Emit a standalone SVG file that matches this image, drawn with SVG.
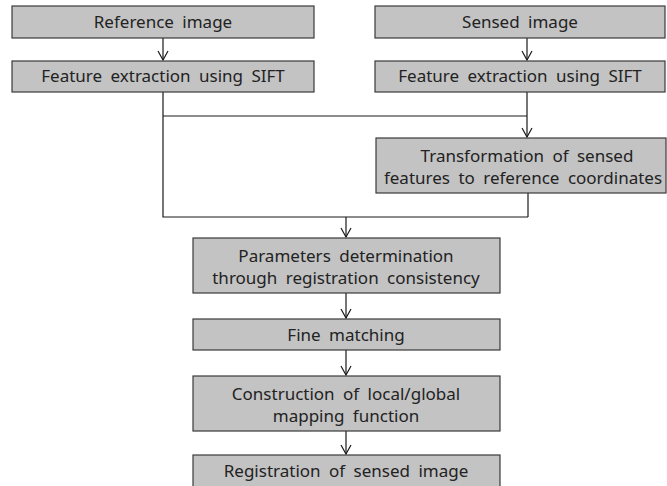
<svg xmlns="http://www.w3.org/2000/svg" width="667" height="486" viewBox="0 0 667 486">
<style>
.box{fill:#c3c3c3;stroke:#3a3a3a;stroke-width:1.2}
.t{font-family:"Noto Sans","DejaVu Sans",sans-serif;font-size:17px;word-spacing:4px;fill:#222;text-anchor:middle}
.c{fill:none;stroke:#1a1a1a;stroke-width:1.2}
</style>
<defs>
<marker id="a" markerUnits="userSpaceOnUse" markerWidth="14" markerHeight="14" viewBox="-12 -7 14 14" refX="0" refY="0" orient="auto">
<path d="M-9,-5 L0,0 L-9,5" fill="none" stroke="#1a1a1a" stroke-width="1.2"/>
</marker>
</defs>
<rect width="667" height="486" fill="#fff"/>
<g id="connectors">
<path class="c" d="M163,38 V60" marker-end="url(#a)"/>
<path class="c" d="M527,38 V60" marker-end="url(#a)"/>
<path class="c" d="M163,92 V217 H528"/>
<path class="c" d="M163,116 H527"/>
<path class="c" d="M527,92 V137" marker-end="url(#a)"/>
<path class="c" d="M528,193 V217"/>
<path class="c" d="M346,217 V237" marker-end="url(#a)"/>
<path class="c" d="M346,293 V318" marker-end="url(#a)"/>
<path class="c" d="M346,350 V375" marker-end="url(#a)"/>
<path class="c" d="M346,431 V454" marker-end="url(#a)"/>
</g>
<g id="n-ref"><rect class="box" x="12" y="6" width="302" height="32"/><text class="t" x="163" y="28">Reference image</text></g>
<g id="n-feat1"><rect class="box" x="12" y="61" width="302" height="31"/><text class="t" x="163" y="82">Feature extraction using SIFT</text></g>
<g id="n-sensed"><rect class="box" x="375" y="6" width="290" height="32"/><text class="t" x="520" y="28">Sensed image</text></g>
<g id="n-feat2"><rect class="box" x="375" y="61" width="290" height="31"/><text class="t" x="520" y="82">Feature extraction using SIFT</text></g>
<g id="n-trans"><rect class="box" x="376" y="138" width="290" height="55"/><text class="t" x="527" y="162">Transformation of sensed</text><text class="t" x="523" y="184">features to reference coordinates</text></g>
<g id="n-params"><rect class="box" x="193" y="238" width="307" height="55"/><text class="t" x="346" y="262">Parameters determination</text><text class="t" x="346" y="284">through registration consistency</text></g>
<g id="n-fine"><rect class="box" x="193" y="319" width="307" height="31"/><text class="t" x="346" y="341">Fine matching</text></g>
<g id="n-constr"><rect class="box" x="193" y="376" width="307" height="55"/><text class="t" x="346" y="400">Construction of local/global</text><text class="t" x="346" y="422">mapping function</text></g>
<g id="n-regist"><rect class="box" x="193" y="455" width="307" height="40"/><text class="t" x="346" y="477">Registration of sensed image</text></g>
</svg>
